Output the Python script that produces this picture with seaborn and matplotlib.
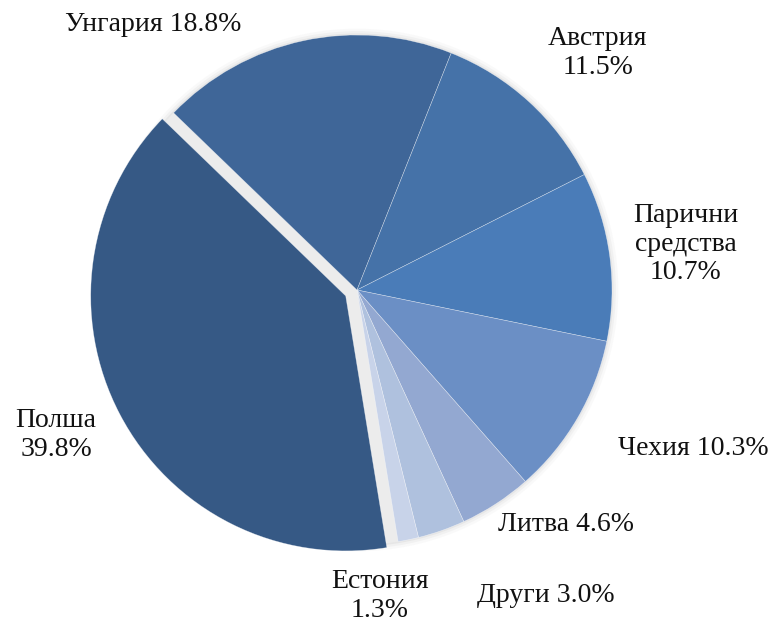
import matplotlib
matplotlib.use("Agg")
import matplotlib.pyplot as plt
from matplotlib.patches import Circle
import seaborn as sns

# Data (clockwise from the top-left)
labels = ["Унгария", "Австрия", "Парични\nсредства", "Чехия", "Литва", "Други", "Естония", "Полша"]
shares = [18.8, 11.5, 10.7, 10.3, 4.6, 3.0, 1.3, 39.8]
colors = ["#3F6698", "#4572A8", "#4A7CB8", "#6B8FC5", "#93A8D1", "#AFC1DE", "#C8D3E9", "#365985"]
explode = [0, 0, 0, 0, 0, 0, 0, 0.05]

# label placement (pie radius = 1)
label_xy = [(-0.80, 1.04), (0.945, 0.93), (1.29, 0.18), (1.32, -0.62),
            (0.82, -0.92), (0.74, -1.20), (0.09, -1.20), (-1.18, -0.57)]
inline = [True, False, False, True, True, True, False, False]

sns.set_theme(style="white")
plt.rcParams["font.family"] = ["Liberation Serif", "DejaVu Serif"]

fig = plt.figure(figsize=(7.8, 6.3), dpi=100)
ax = fig.add_axes([0, 0, 1, 1])

# soft shadow / halo behind the pie
for r, a in [(1.025, 0.05), (1.015, 0.08), (1.006, 0.12)]:
    ax.add_patch(Circle((0, 0), r, color="#999999", alpha=a, lw=0, zorder=0))
ax.add_patch(Circle((0, 0), 1.0, color="#ECECEC", lw=0, zorder=0.5))

wedges, _ = ax.pie(shares, colors=colors, explode=explode, startangle=136,
                   counterclock=False, radius=1.0,
                   wedgeprops=dict(edgecolor=(1, 1, 1, 0.5), linewidth=0.4))

for name, val, (x, y), one_line in zip(labels, shares, label_xy, inline):
    sep = " " if one_line else "\n"
    ax.text(x, y, f"{name}{sep}{val:.1f}%", ha="center", va="center",
            fontsize=20, color="#111111", linespacing=1.2)

ax.set_xlim(-357 / 255, (780 - 357) / 255)
ax.set_ylim((290 - 630) / 255, 290 / 255)
ax.set_aspect("equal")
ax.axis("off")

fig.savefig("out.png", dpi=100, facecolor="white")
